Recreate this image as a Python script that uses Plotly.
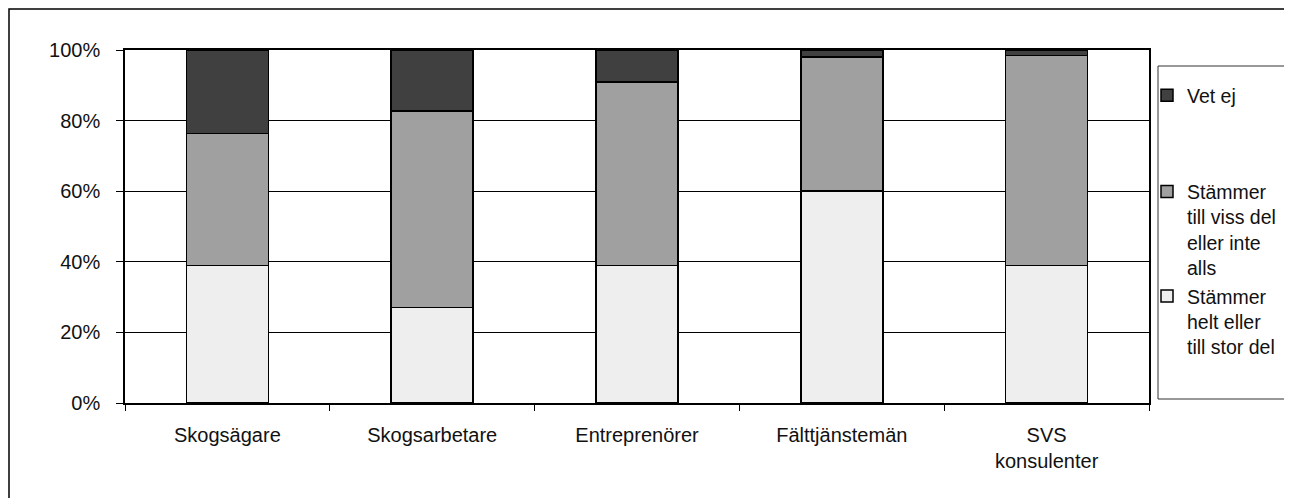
import plotly.graph_objects as go

categories = ["Skogsägare", "Skogsarbetare", "Entreprenörer", "Fälttjänstemän", "SVS<br>konsulenter"]
helt = [39, 27, 39, 60, 39]
viss = [37.3, 55.7, 52, 38, 59.5]
vet_ej = [23.7, 17.3, 9, 2, 1.5]

series = [
    ("Stämmer<br>helt eller<br>till stor del", helt, "#EEEEEE", "b", 3),
    ("Stämmer<br>till viss del<br>eller inte<br>alls", viss, "#A0A0A0", "b", 2),
    ("Vet ej", vet_ej, "#404040", "a", 1),
]

fig = go.Figure()
for name, vals, color, grp, rank in series:
    fig.add_trace(go.Bar(
        x=categories, y=vals, name=name, legendgroup=grp, legendrank=rank,
        marker=dict(color=color, line=dict(color="black", width=1.5)),
        width=0.4,
    ))

# page is drawn with an 8px body offset, so work in page pixels and shift
OFF = 8
W, H = 1292, 498
L = 125 - OFF
T = 50 - OFF
R = W - (1149 - OFF)
B = H - (403 - OFF)
pw, ph = W - L - R, H - T - B


def px_x(v):
    return (v - OFF - L) / pw


def px_y(v):
    return (H - B - (v - OFF)) / ph


fig.update_layout(
    width=W, height=H,
    barmode="stack",
    margin=dict(l=L, r=R, t=T, b=B, autoexpand=False),
    paper_bgcolor="white", plot_bgcolor="white",
    font=dict(family="Liberation Sans, Arial, sans-serif", size=20, color="#111"),
    showlegend=True,
    legend=dict(
        x=px_x(1147), y=px_y(76), xanchor="left", yanchor="top",
        traceorder="grouped", tracegroupgap=68,
        valign="top", bgcolor="rgba(0,0,0,0)", borderwidth=0,
        itemwidth=30, font=dict(size=19.5),
    ),
    shapes=[
        # outer chart frame (runs off the right and bottom edge)
        dict(type="rect", xref="paper", yref="paper",
             x0=px_x(9), x1=px_x(1320), y0=px_y(530), y1=px_y(9),
             line=dict(color="black", width=1.5)),
        # legend box
        dict(type="rect", xref="paper", yref="paper",
             x0=px_x(1158), x1=px_x(1288), y0=px_y(399), y1=px_y(66),
             line=dict(color="#333", width=1)),
    ],
)

fig.update_xaxes(
    type="category", showline=True, linecolor="black", linewidth=2, mirror=True,
    ticks="outside", tickson="boundaries", ticklen=6, tickcolor="black",
    showgrid=False, ticklabelstandoff=13,
)
fig.update_yaxes(
    range=[0, 100], dtick=20, ticksuffix="%", showline=True, linecolor="black",
    linewidth=1.5, mirror=True, ticks="outside", ticklen=7, tickcolor="black",
    showgrid=True, gridcolor="black", gridwidth=1, zeroline=False,
    ticklabelstandoff=12,
)

fig.write_html("out.html")
